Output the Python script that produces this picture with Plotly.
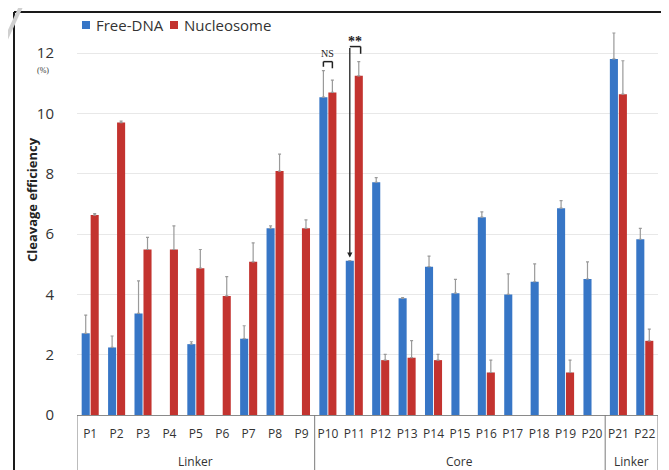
import plotly.graph_objects as go

categories = ["P1", "P2", "P3", "P4", "P5", "P6", "P7", "P8", "P9", "P10", "P11",
              "P12", "P13", "P14", "P15", "P16", "P17", "P18", "P19", "P20", "P21", "P22"]
free_dna = [2.71, 2.24, 3.37, None, 2.35, None, 2.53, 6.19, None, 10.54, 5.12,
            7.72, 3.87, 4.92, 4.04, 6.56, 4.00, 4.42, 6.86, 4.51, 11.81, 5.83]
free_dna_err = [0.60, 0.38, 1.08, 0, 0.08, 0, 0.43, 0.08, 0, 0.88, 0.0,
                0.15, 0.02, 0.35, 0.46, 0.18, 0.68, 0.59, 0.25, 0.57, 0.86, 0.36]
nucleosome = [6.63, 9.70, 5.49, 5.49, 4.87, 3.95, 5.08, 8.09, 6.19, 10.70, 11.25,
              1.82, 1.90, 1.82, None, 1.41, None, None, 1.41, None, 10.64, 2.46]
nucleosome_err = [0.05, 0.05, 0.40, 0.78, 0.62, 0.64, 0.63, 0.56, 0.28, 0.41, 0.47,
                  0.19, 0.57, 0.19, 0, 0.41, 0, 0, 0.41, 0, 1.11, 0.39]
groups = [("Linker", 0, 8), ("Core", 9, 19), ("Linker", 20, 21)]
y_ticks = [0, 2, 4, 6, 8, 10, 12]
series_names = ["Free-DNA", "Nucleosome"]

BLUE = "#3776c6"
RED = "#c3332f"
ERR = "#9a9a9a"
FONT = "Open Sans"

# the page body has an 8px margin; work in screen pixels and subtract it
OFF = 8
VW, VH = 669, 470
W, H = VW - OFF, VH - OFF
PLOT_L, PLOT_R, PLOT_T, PLOT_B = 77, 658, 20, 415  # screen pixels
L = PLOT_L - OFF
R = W - (PLOT_R - OFF)
T = PLOT_T - OFF
B = H - (PLOT_B - OFF)
PW, PH = W - L - R, H - T - B


def px_x(p):
    return (p - OFF - L) / PW


def px_y(p):
    return (H - B - (p - OFF)) / PH


fig = go.Figure()
fig.add_trace(go.Bar(
    x=categories, y=free_dna, name=series_names[0], marker=dict(color=BLUE, line=dict(width=0)),
    error_y=dict(type="data", symmetric=False, array=free_dna_err,
                 arrayminus=[0] * len(categories), color=ERR, thickness=1.2, width=1.5),
))
fig.add_trace(go.Bar(
    x=categories, y=nucleosome, name=series_names[1], marker=dict(color=RED, line=dict(width=0)),
    error_y=dict(type="data", symmetric=False, array=nucleosome_err,
                 arrayminus=[0] * len(categories), color=ERR, thickness=1.2, width=1.5),
))

ymax = (PLOT_B - PLOT_T) / 30.15

shapes = []
annotations = []

# outer frame (drawn as three lines)
fx0, fx1, fy0 = px_x(14), px_x(662), px_y(12)
fy1 = px_y(470)
frame_line = dict(color="#1a1a1a", width=2)
shapes += [
    dict(type="line", xref="paper", yref="paper", x0=fx0, x1=fx1, y0=fy0, y1=fy0, line=frame_line),
    dict(type="line", xref="paper", yref="paper", x0=fx0, x1=fx0, y0=fy0, y1=fy1, line=frame_line),
    dict(type="line", xref="paper", yref="paper", x0=fx1, x1=fx1, y0=fy0, y1=fy1, line=frame_line),
]

# group dividers and labels below the axis
for name, a, b in groups:
    annotations.append(dict(x=(a + b) / 2, y=px_y(461), xref="x", yref="paper",
                            yanchor="middle", xanchor="center",
                            text=name, showarrow=False,
                            font=dict(family=FONT, size=12, color="#333333")))
for xv in [-0.5, 8.5, 19.5, 21.5]:
    shapes.append(dict(type="line", xref="x", yref="paper", x0=xv, x1=xv,
                       y0=0, y1=px_y(475), line=dict(color="#7a7a7a", width=1)))

# diagonal artefact at top-left
shapes.append(dict(type="line", xref="paper", yref="paper", x0=px_x(24), y0=px_y(0),
                   x1=px_x(0), y1=px_y(52), line=dict(color="#d0d0d0", width=4)))

# manual legend
leg = [(82, series_names[0], BLUE), (170, series_names[1], RED)]
for x0, name, col in leg:
    shapes.append(dict(type="rect", xref="paper", yref="paper", x0=px_x(x0), x1=px_x(x0 + 8),
                       y0=px_y(29), y1=px_y(21), fillcolor=col, line=dict(width=0)))
    annotations.append(dict(x=px_x(x0 + 12), y=px_y(25), xref="paper", yref="paper",
                            xanchor="left", yanchor="middle", text=name, showarrow=False,
                            font=dict(family=FONT, size=15, color="#333333")))

# NS bracket (P10)
off = 0.17
shapes += [
    dict(type="line", xref="x", yref="y", x0=9 - off, x1=9 + off, y0=11.72, y1=11.72,
         line=dict(color="#222222", width=1.5)),
    dict(type="line", xref="x", yref="y", x0=9 - off, x1=9 - off, y0=11.72, y1=11.55,
         line=dict(color="#222222", width=1.5)),
    dict(type="line", xref="x", yref="y", x0=9 + off, x1=9 + off, y0=11.72, y1=11.50,
         line=dict(color="#222222", width=1.5)),
]
annotations.append(dict(x=9, y=11.72, xref="x", yref="y", yanchor="bottom", text="NS",
                        showarrow=False, yshift=1,
                        font=dict(family="Liberation Serif", size=10, color="#222222")))
# ** bracket (P11)
shapes += [
    dict(type="line", xref="x", yref="y", x0=10 - off, x1=10 + 0.24, y0=12.22, y1=12.22,
         line=dict(color="#222222", width=1.5)),
    dict(type="line", xref="x", yref="y", x0=10 + 0.24, x1=10 + 0.24, y0=12.22, y1=11.98,
         line=dict(color="#222222", width=1.5)),
]
annotations.append(dict(x=10 - off, y=5.22, ax=10 - off, ay=12.22, xref="x", yref="y",
                        axref="x", ayref="y", text="", showarrow=True, arrowhead=2,
                        arrowsize=0.8, arrowwidth=1.3, arrowcolor="#222222"))
annotations.append(dict(x=10 + 0.03, y=12.22, xref="x", yref="y", yanchor="bottom",
                        text="<b>**</b>", showarrow=False, yshift=-4,
                        font=dict(family="Liberation Serif", size=14, color="#222222")))

# y axis title and unit
annotations.append(dict(x=px_x(32), y=px_y(200), xref="paper", yref="paper",
                        xanchor="center", yanchor="middle",
                        text="<b>Cleavage efficiency</b>", textangle=-90, showarrow=False,
                        font=dict(family=FONT, size=13, color="#222222")))
annotations.append(dict(x=px_x(43), y=px_y(70), xref="paper", yref="paper",
                        xanchor="center", yanchor="middle",
                        text="(%)", showarrow=False,
                        font=dict(family="Liberation Serif", size=8, color="#333333")))

fig.update_layout(
    width=W, height=H,
    margin=dict(l=L, r=R, t=T, b=B, autoexpand=False),
    paper_bgcolor="white", plot_bgcolor="white",
    barmode="group", bargap=0.32, bargroupgap=0.1,
    font=dict(family=FONT, color="#333333"),
    showlegend=False,
    xaxis=dict(type="category", categoryorder="array", categoryarray=categories,
               showgrid=False, showline=True, linecolor="#8a8a8a", linewidth=1,
               ticks="", tickfont=dict(family=FONT, size=12, color="#333333"),
               ticklabelstandoff=8, range=[-0.5, 21.5], zeroline=False, automargin=False),
    yaxis=dict(range=[0, ymax], tickvals=y_ticks, showgrid=True, gridcolor="#e8e8e8",
               gridwidth=1, zeroline=False, showline=False, ticks="",
               tickfont=dict(family=FONT, size=15, color="#333333"),
               ticklabelstandoff=22, automargin=False),
    shapes=shapes,
    annotations=annotations,
)

fig.write_html("out.html")
